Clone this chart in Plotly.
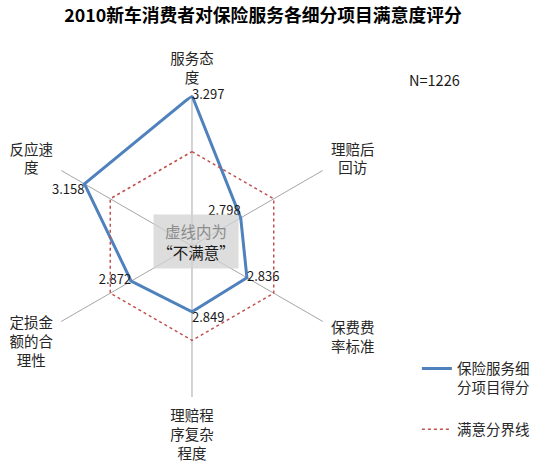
import plotly.graph_objects as go

categories = ["服务态<br>度", "理赔后<br>\u2002回访", "保费费<br>率标准", "理赔程<br>序复杂<br>程度",
              "定损金<br>额的合<br>理性\u2002", "反应速<br>度\u3000"]
scores = [3.297, 2.798, 2.836, 2.849, 2.872, 3.158]
threshold = [3.0, 3.0, 3.0, 3.0, 3.0, 3.0]
score_labels = ["3.297", "2.798", "2.836", "2.849", "2.872", "3.158"]
label_positions = ["middle right", "top left", "middle right", "bottom right", "middle left", "bottom left"]

FONT = "Noto Sans CJK SC"

fig = go.Figure()
fig.add_trace(go.Scatterpolar(
    r=scores + scores[:1],
    theta=categories + categories[:1],
    mode="lines+text",
    text=score_labels + [""],
    textposition=label_positions + ["middle right"],
    textfont=dict(family=FONT, size=13, color="#1a1a1a"),
    line=dict(color="#4f81bd", width=3),
    name="保险服务细<br>分项目得分",
    legendgroup="a",
))
fig.add_trace(go.Scatterpolar(
    r=threshold + threshold[:1],
    theta=categories + categories[:1],
    mode="lines",
    line=dict(color="#c0504d", width=1.5, dash="dot"),
    name="满意分界线",
    legendgroup="b",
))

fig.update_layout(
    width=540, height=467,
    margin=dict(l=0, r=0, t=0, b=0),
    paper_bgcolor="white",
    plot_bgcolor="white",
    font=dict(family=FONT, size=14, color="#262626"),
    title=dict(text="<b>2010新车消费者对保险服务各细分项目满意度评分</b>",
               x=0.487, xanchor="center", y=0.966, yanchor="middle",
               font=dict(family=FONT, size=17.8, color="#000000")),
    polar=dict(
        domain=dict(x=[0.0759, 0.6352], y=[0.1499, 0.7966]),
        bgcolor="white",
        gridshape="linear",
        radialaxis=dict(range=[2.5, 3.3], visible=True, showticklabels=False,
                        showgrid=False, showline=False, ticks=""),
        angularaxis=dict(rotation=90, direction="clockwise", showline=False,
                         ticks="outside", ticklen=6, tickcolor="rgba(0,0,0,0)",
                         gridcolor="#a6a6a6", gridwidth=1,
                         tickfont=dict(family=FONT, size=14.5, color="#262626")),
    ),
    legend=dict(x=0.772, y=0.245, xanchor="left", yanchor="top",
                font=dict(family=FONT, size=14.5, color="#262626"),
                tracegroupgap=20, traceorder="grouped", valign="top",
                bgcolor="rgba(0,0,0,0)"),
    annotations=[
        dict(text="N=1226", x=0.805, y=0.829, xref="paper", yref="paper",
             xanchor="center", yanchor="middle", showarrow=False,
             font=dict(family=FONT, size=14.5, color="#1a1a1a")),
        dict(text="<span style='color:#8c8c8c'>虚线内为</span><br>“不满意”",
             x=0.363, y=0.482, xref="paper", yref="paper", showarrow=False,
             xanchor="center", yanchor="middle",
             bgcolor="rgba(210,210,210,0.75)", width=82, height=51,
             font=dict(family=FONT, size=15.5, color="#1a1a1a")),
    ],
)

fig.write_html("out.html", config={"displayModeBar": False},
               post_script="document.body.style.margin='0';")
